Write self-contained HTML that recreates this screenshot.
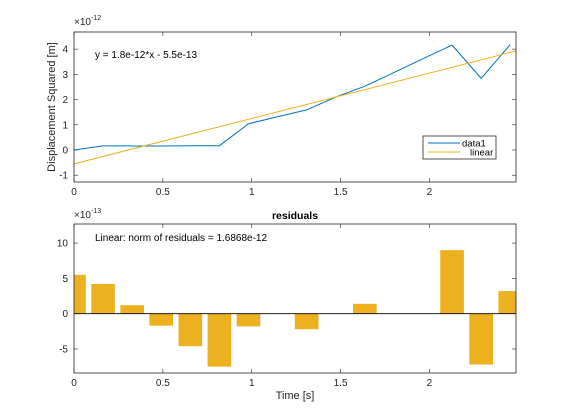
<!DOCTYPE html>
<html><head><meta charset="utf-8"><style>
body{margin:0;background:#fff;}
svg{display:block;font-family:"Liberation Sans",sans-serif;}
</style></head><body>
<svg id="fig" width="570" height="420" viewBox="0 0 570 420" xmlns="http://www.w3.org/2000/svg">
<rect width="570" height="420" fill="#fff"/>
<g id="top"></g>
<g id="bot"></g>
</svg>
<script>
const times = [0,0.1636,0.3273,0.4909,0.6545,0.8182,0.9818,1.1455,1.3091,1.4727,1.6364,1.8,1.9636,2.1273,2.2909,2.4545];
const displacement = [0,0.165,0.16,0.16,0.17,0.17,1.04,1.32,1.59,2.1,2.53,3.07,3.62,4.16,2.84,4.18];
const fitSlope = 1.8, fitIntercept = -0.55;
const residuals = [5.5,4.2,1.2,-1.7,-4.6,-7.5,-1.8,0,-2.2,0,1.4,0,0,9.0,-7.2,3.2];
const xTicks = [0,0.5,1,1.5,2];
const xTickLabels = ["0","0.5","1","1.5","2"];
const yTicksTop = [-1,0,1,2,3,4];
const yTicksBot = [-5,0,5,10];

const NS="http://www.w3.org/2000/svg";
function mk(p,tag,attrs,text){const e=document.createElementNS(NS,tag);for(const k in attrs)e.setAttribute(k,attrs[k]);if(text!==undefined)e.textContent=text;p.appendChild(e);return e;}
const L=74,R=516,X0=0,X1=2.487;
const sx=v=>L+(v-X0)/(X1-X0)*(R-L);

function axes(g,T,B,Y0,Y1,yt){
  const sy=v=>B-(v-Y0)/(Y1-Y0)*(B-T);
  xTicks.forEach((t,i)=>{
    const x=sx(t);
    const a=mk(g,'line',{x1:x,x2:x,y1:B,y2:B-4,stroke:'#262626','stroke-width':0.6});
    
    mk(g,'line',{x1:x,x2:x,y1:T,y2:T+4,stroke:'#262626','stroke-width':0.6});
    const l=mk(g,'text',{x:x,y:B+13,'font-size':10,'text-anchor':'middle',fill:'#262626'},xTickLabels[i]);
    
  });
  yt.forEach(t=>{
    const y=sy(t);
    mk(g,'line',{x1:L,x2:L+4,y1:y,y2:y,stroke:'#262626','stroke-width':0.6});
    mk(g,'line',{x1:R,x2:R-4,y1:y,y2:y,stroke:'#262626','stroke-width':0.6});
    const l=mk(g,'text',{x:L-6,y:y+3.5,'font-size':10,'text-anchor':'end',fill:'#262626'},String(t));
    
  });
  return sy;
}
function box(g,T,B){const r=mk(g,'rect',{x:L,y:T,width:R-L,height:B-T,fill:'none',stroke:'#262626','stroke-width':0.8});}

// Top plot
const gt=document.getElementById('top');
const T1=32,B1=182;
const sy1=axes(gt,T1,B1,-1.27,4.68,yTicksTop);
const clip=mk(gt,'clipPath',{id:'c1'});mk(clip,'rect',{x:L,y:T1,width:R-L,height:B1-T1});
const pts=times.map((t,i)=>sx(t)+','+sy1(displacement[i])).join(' ');
const dl=mk(gt,'polyline',{points:pts,fill:'none',stroke:'#0072BD','stroke-width':1,'clip-path':'url(#c1)'});

const fl=mk(gt,'line',{x1:sx(X0),y1:sy1(fitIntercept+fitSlope*X0),x2:sx(X1),y2:sy1(fitIntercept+fitSlope*X1),stroke:'#EDB120','stroke-width':1,'clip-path':'url(#c1)'});

box(gt,T1,B1);
const ex1=mk(gt,'text',{x:74,y:25,'font-size':10,fill:'#262626'});ex1.innerHTML='×10<tspan dy="-5" font-size="7">-12</tspan>';

const eq=mk(gt,'text',{x:95,y:58,'font-size':10,fill:'#000'},'y = 1.8e-12*x - 5.5e-13');

const yl=mk(gt,'text',{x:0,y:0,'font-size':11,'text-anchor':'middle',fill:'#262626',transform:'translate(55,107) rotate(-90)'},'Displacement Squared [m]');

const lg=mk(gt,'g',{});
mk(lg,'rect',{x:423,y:136,width:73,height:23,fill:'#fff',stroke:'#262626','stroke-width':0.8});
mk(lg,'line',{x1:428,x2:460,y1:143,y2:143,stroke:'#0072BD','stroke-width':1});
mk(lg,'line',{x1:428,x2:460,y1:152,y2:152,stroke:'#EDB120','stroke-width':1});
mk(lg,'text',{x:462,y:146.5,'font-size':9.5,fill:'#000'},'data1');
mk(lg,'text',{x:470,y:155.5,'font-size':9.5,fill:'#000'},'linear');

// Bottom plot
const gb=document.getElementById('bot');
const T2=224,B2=373;
const sy2=axes(gb,T2,B2,-8.4,12.7,yTicksBot);
const clip2=mk(gb,'clipPath',{id:'c2'});mk(clip2,'rect',{x:L,y:T2,width:R-L,height:B2-T2});
const bw=0.133;
times.forEach((t,i)=>{
  const r=residuals[i];if(r===0)return;
  const y0=sy2(0),y1=sy2(r);
  const b=mk(gb,'rect',{x:sx(t-bw/2),y:Math.min(y0,y1),width:sx(bw)-sx(0),height:Math.abs(y1-y0),fill:'#EDB120','clip-path':'url(#c2)'});
  
});
mk(gb,'line',{x1:L,x2:R,y1:sy2(0),y2:sy2(0),stroke:'#000','stroke-width':0.8});
box(gb,T2,B2);
const ex2=mk(gb,'text',{x:74,y:218,'font-size':10,fill:'#262626'});ex2.innerHTML='×10<tspan dy="-5" font-size="7">-13</tspan>';

const ti=mk(gb,'text',{x:295,y:219,'font-size':10.5,'font-weight':'bold','text-anchor':'middle',fill:'#000'},'residuals');

const nr=mk(gb,'text',{x:95,y:241,'font-size':10,fill:'#000'},'Linear: norm of residuals = 1.6868e-12');

const xl=mk(gb,'text',{x:295,y:399,'font-size':11,'text-anchor':'middle',fill:'#262626'},'Time [s]');

</script>
</body></html>
